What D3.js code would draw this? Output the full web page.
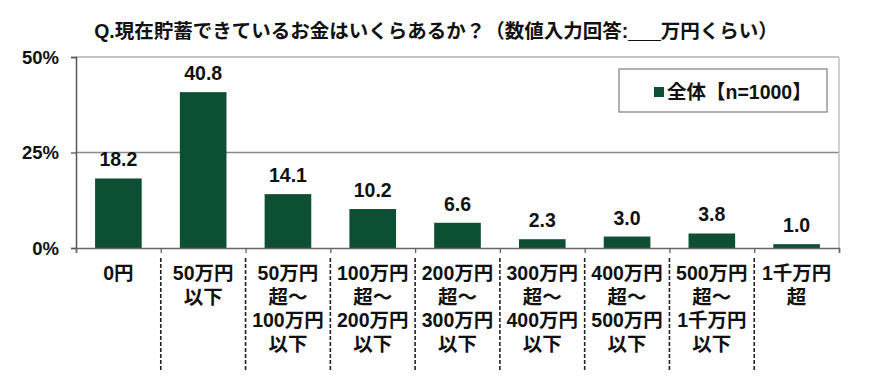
<!DOCTYPE html>
<html><head><meta charset="utf-8">
<script src="https://cdn.jsdelivr.net/npm/d3@7"></script>
<style>
body{margin:0;background:#fff;}
text{font-family:"Liberation Sans","Noto Sans CJK JP",sans-serif;font-weight:bold;fill:#111;}
</style></head><body>
<svg id="c" width="870" height="390"></svg>
<script>
const title = "Q.現在貯蓄できているお金はいくらあるか？（数値入力回答:___万円くらい）";
const categories = [
  ["0円"],
  ["50万円","以下"],
  ["50万円","超～","100万円","以下"],
  ["100万円","超～","200万円","以下"],
  ["200万円","超～","300万円","以下"],
  ["300万円","超～","400万円","以下"],
  ["400万円","超～","500万円","以下"],
  ["500万円","超～","1千万円","以下"],
  ["1千万円","超"]
];
const values = [18.2, 40.8, 14.1, 10.2, 6.6, 2.3, 3.0, 3.8, 1.0];
const yTicks = [0, 25, 50];
const legendLabel = "全体【n=1000】";
const barColor = "#0d4f33";

const svg = d3.select("#c");
const L = 76, R = 839, T = 57, B = 248;
const x = d3.scaleBand().domain(d3.range(categories.length)).range([L, R]).paddingInner(0.45).paddingOuter(0.225);
const xb = d3.scaleLinear().domain([0, categories.length]).range([L, R]);
const y = d3.scaleLinear().domain([0, 50]).range([B, T]);

svg.append("text").attr("x", 436).attr("y", 38).attr("text-anchor", "middle")
  .style("font-size", "19.5px").text(title);

// gridlines
svg.append("g").selectAll("line").data(yTicks.filter(d => d > 0)).join("line")
  .attr("x1", L).attr("x2", R).attr("y1", d => y(d)).attr("y2", d => y(d))
  .attr("stroke", d => d === 50 ? "#b0b0b0" : "#8a8a8a").attr("stroke-width", 1.3);
// right border
svg.append("line").attr("x1", R).attr("x2", R).attr("y1", T).attr("y2", B)
  .attr("stroke", "#b8b8b8").attr("stroke-width", 1.3);

// y axis
const ya = d3.axisLeft(y).tickValues(yTicks).tickFormat(d => d + "%").tickSize(5).tickPadding(12);
const yg = svg.append("g").attr("transform", `translate(${L},0)`).call(ya);
yg.select(".domain").attr("stroke", "#555").attr("stroke-width", 1.5);
yg.selectAll(".tick line").attr("stroke", "#555").attr("stroke-width", 1.3);
yg.selectAll("text").style("font-size", "18.5px").attr("fill", "#111").attr("dy", "0.35em");

// bars
svg.append("g").selectAll("rect").data(values).join("rect")
  .attr("x", (d, i) => x(i)).attr("width", x.bandwidth())
  .attr("y", d => y(d)).attr("height", d => B - y(d)).attr("fill", barColor);

// value labels
svg.append("g").selectAll("text").data(values).join("text")
  .attr("x", (d, i) => x(i) + x.bandwidth() / 2).attr("y", d => y(d) - 12)
  .attr("text-anchor", "middle").style("font-size", "19.5px").text(d => d.toFixed(1));

// x axis
const xa = d3.axisBottom(xb).tickValues(d3.range(categories.length + 1)).tickSize(5).tickFormat("");
const xg = svg.append("g").attr("transform", `translate(0,${B})`).call(xa);
xg.select(".domain").attr("stroke", "#666").attr("stroke-width", 1.5);
xg.selectAll(".tick line").attr("stroke", "#666").attr("stroke-width", 1.3);

// dashed separators
svg.append("g").selectAll("line").data(d3.range(1, categories.length)).join("line")
  .attr("x1", d => xb(d)).attr("x2", d => xb(d)).attr("y1", 258).attr("y2", 372)
  .attr("stroke", "#222").attr("stroke-width", 1.6).attr("stroke-dasharray", "4,2");

// category labels
const cl = svg.append("g").selectAll("text").data(categories).join("text")
  .attr("text-anchor", "middle").style("font-size", "19.5px")
  .attr("transform", (d, i) => `translate(${x(i) + x.bandwidth() / 2},0)`);
cl.selectAll("tspan").data(d => d).join("tspan")
  .attr("x", 0).attr("y", (d, j) => 280 + j * 23.5).text(d => d);

// legend
const lg = svg.append("g");
lg.append("rect").attr("x", 619).attr("y", 69).attr("width", 208).attr("height", 43)
  .attr("fill", "#fff").attr("stroke", "#888").attr("stroke-width", 1.3);
lg.append("rect").attr("x", 654).attr("y", 87).attr("width", 10).attr("height", 10).attr("fill", barColor);
lg.append("text").attr("x", 667).attr("y", 99).style("font-size", "19.5px").text(legendLabel);
</script></body></html>
